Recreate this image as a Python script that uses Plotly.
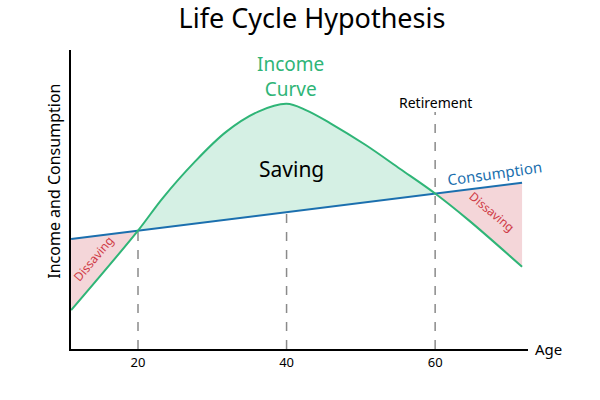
import plotly.graph_objects as go

####################################################
# Data (y in arbitrary units 0-100)
income_ages = [11, 20, 23.3, 27.6, 31.9, 36.2, 40, 42.6, 45.9, 50.6, 55.3, 60, 64.5, 71.7]
income      = [13.0, 39.6, 50.4, 62.5, 72.7, 79.4, 82.0, 79.9, 75.5, 68.3, 60.2, 52.0, 43.1, 27.5]

consumption_ages = [11, 20, 40, 60, 71.7]
consumption      = [36.8, 39.6, 45.8, 52.0, 55.6]

tick_ages      = [20, 40, 60]
retirement_top = 79.3
####################################################

GREEN      = '#2fb577'
GREEN_FILL = 'rgba(47,181,119,0.20)'
PINK_FILL  = 'rgba(205,70,80,0.22)'
BLUE       = '#1b6fae'
RED_TEXT   = '#cf3a45'
FONT       = 'Noto Sans'

fig = go.Figure()

####################################################
# Shaded regions: consumption segment first, income segment filled to it
def region(c_from, c_to, i_from, i_to, color):
    fig.add_trace(go.Scatter(x=consumption_ages[c_from:c_to + 1],
                             y=consumption[c_from:c_to + 1],
                             mode='lines', line=dict(width=0),
                             hoverinfo='skip', showlegend=False))
    fig.add_trace(go.Scatter(x=income_ages[i_from:i_to + 1],
                             y=income[i_from:i_to + 1],
                             mode='lines', line=dict(width=0, shape='spline'),
                             fill='tonexty', fillcolor=color,
                             hoverinfo='skip', showlegend=False))

region(0, 1, 0, 1, PINK_FILL)     # dissaving, young
region(1, 3, 1, 11, GREEN_FILL)   # saving
region(3, 4, 11, 13, PINK_FILL)   # dissaving, retired
####################################################

# dashed guide lines down to the axis
for i, age in enumerate(tick_ages):
    top = consumption[i + 1]
    if age == 60:
        top = retirement_top
    fig.add_trace(go.Scatter(x=[age, age], y=[0, top], mode='lines',
                             line=dict(color='#8a8a8a', width=1.5, dash='dash'),
                             hoverinfo='skip', showlegend=False))

fig.add_trace(go.Scatter(x=consumption_ages, y=consumption, mode='lines',
                         line=dict(color=BLUE, width=2),
                         showlegend=False))
fig.add_trace(go.Scatter(x=income_ages, y=income, mode='lines',
                         line=dict(color=GREEN, width=2, shape='spline'),
                         showlegend=False))

####################################################
# Labels
notes = [
    dict(x=40.5, y=91.3, text='Income<br>Curve', font=dict(size=19, color=GREEN)),
    dict(x=60, y=82.6, text='Retirement', font=dict(size=14, color='black')),
    dict(x=40.6, y=60.2, text='Saving', font=dict(size=21, color='black')),
    dict(x=68.0, y=59.0, text='Consumption', textangle=-8,
         font=dict(size=15, color=BLUE)),
    dict(x=14.0, y=30.4, text='Dissaving', textangle=-50,
         font=dict(size=12, color=RED_TEXT)),
    dict(x=67.6, y=46.0, text='Dissaving', textangle=40,
         font=dict(size=12, color=RED_TEXT)),
]
for n in notes:
    fig.add_annotation(showarrow=False, xref='x', yref='y', **n)

fig.add_annotation(text='Age', xref='paper', yref='paper', x=1, y=0,
                   xanchor='left', yanchor='middle', xshift=5,
                   showarrow=False, font=dict(size=15, color='black'))
fig.add_annotation(text='Income and Consumption', xref='paper', yref='paper',
                   x=-0.039, y=0.56, textangle=-90,
                   xanchor='center', yanchor='middle',
                   showarrow=False, font=dict(size=16, color='black'))

fig.update_layout(
    width=600, height=400,
    margin=dict(l=71, r=72, t=50, b=51),
    paper_bgcolor='white', plot_bgcolor='white',
    font=dict(family=FONT, color='black'),
    title=dict(text='Life Cycle Hypothesis', x=0.52, xanchor='center',
               y=0.9525, yanchor='middle',
               font=dict(size=27, color='black', family=FONT)),
    xaxis=dict(range=[10.98, 72.5], showline=True, linecolor='black',
               linewidth=2, showgrid=False, zeroline=False, automargin=False,
               tickvals=tick_ages, ticks='', tickfont=dict(size=13),
               fixedrange=True),
    yaxis=dict(range=[0, 100], showline=True, linecolor='black',
               linewidth=2, showgrid=False, zeroline=False, automargin=False,
               showticklabels=False, ticks='',
               fixedrange=True),
)

# drop the page's default 8px body margin so the figure sits at the corner
fig.write_html("out.html", config=dict(displayModeBar=False),
               post_script="document.body.style.margin='0';")
